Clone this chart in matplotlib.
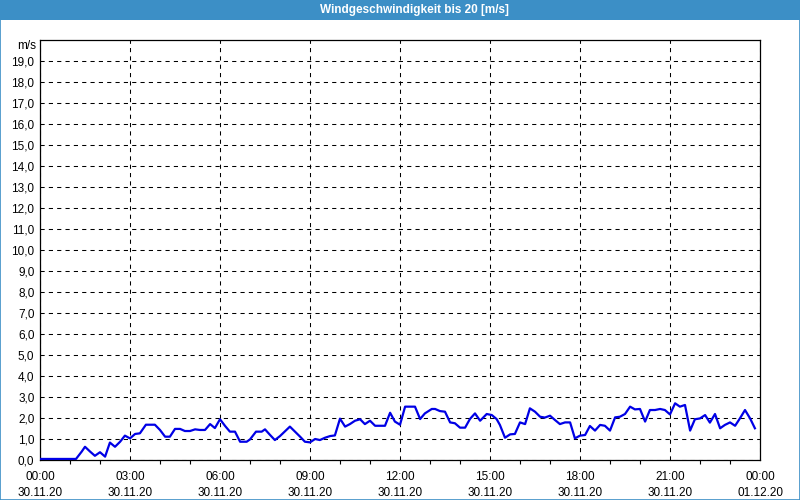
import matplotlib
matplotlib.use("Agg")
import matplotlib.pyplot as plt
from matplotlib.patches import Rectangle

title = "Windgeschwindigkeit bis 20 [m/s]"
unit_label = "m/s"

hours = [0.0, 1.2, 1.39, 1.5, 1.67, 1.83, 2.0, 2.17, 2.33, 2.5, 2.67, 2.83, 3.0, 3.17, 3.33,
         3.53, 3.83, 4.0, 4.17, 4.33, 4.5, 4.67, 4.83, 5.0, 5.17, 5.33, 5.5, 5.67, 5.83, 6.0,
         6.17, 6.33, 6.5, 6.67, 6.89, 7.0, 7.2, 7.39, 7.5, 7.67, 7.83, 8.0, 8.33, 8.5, 8.67,
         8.83, 9.0, 9.17, 9.33, 9.5, 9.67, 9.83, 10.0, 10.17, 10.33, 10.5, 10.67, 10.83, 11.0,
         11.17, 11.5, 11.67, 11.83, 12.0,
         12.17, 12.5, 12.67, 12.83, 13.06, 13.17, 13.33, 13.5, 13.67, 13.83, 14.0, 14.17,
         14.33, 14.5, 14.67, 14.89, 15.06, 15.22, 15.33, 15.5, 15.67, 15.83, 16.0, 16.17,
         16.33, 16.5, 16.67, 16.83, 17.0, 17.17, 17.33, 17.5, 17.67, 17.83, 18.0,
         18.17, 18.33, 18.5, 18.67, 18.83, 19.0, 19.17, 19.33, 19.5, 19.67, 19.83, 20.0,
         20.17, 20.33, 20.5, 20.67, 20.83, 21.0, 21.17, 21.33, 21.5, 21.67, 21.83, 22.0,
         22.17, 22.33, 22.5, 22.67, 22.83, 23.0, 23.17, 23.33, 23.5, 23.67, 23.83]
speed = [0.05, 0.05, 0.4, 0.63, 0.4, 0.2, 0.37, 0.16, 0.83, 0.63, 0.87, 1.16, 1.03, 1.24, 1.27,
         1.68, 1.68, 1.43, 1.11, 1.11, 1.48, 1.48, 1.38, 1.38, 1.46, 1.43, 1.43, 1.71, 1.52, 1.94,
         1.62, 1.35, 1.35, 0.87, 0.87, 0.98, 1.35, 1.35, 1.46, 1.19, 0.95, 1.14, 1.59, 1.35, 1.11,
         0.87, 0.84, 1.0, 0.95, 1.06, 1.14, 1.17, 1.97, 1.59, 1.71, 1.87, 1.94, 1.71, 1.87,
         1.63, 1.63, 2.25, 1.83, 1.68,
         2.54, 2.54, 1.95, 2.22, 2.43, 2.43, 2.33, 2.3, 1.79, 1.75, 1.54, 1.54,
         1.95, 2.22, 1.87, 2.19, 2.14, 1.95, 1.67, 1.06, 1.22, 1.24, 1.79, 1.71,
         2.46, 2.3, 2.06, 2.02, 2.11, 1.9, 1.71, 1.79, 1.79, 1.03, 1.16,
         1.19, 1.62, 1.4, 1.67, 1.63, 1.4, 2.03, 2.06, 2.19, 2.54, 2.41, 2.43,
         1.83, 2.38, 2.38, 2.43, 2.38, 2.17, 2.7, 2.54, 2.62, 1.4, 1.94, 1.98,
         2.14, 1.78, 2.19, 1.51, 1.67, 1.79, 1.63, 1.98, 2.38, 1.98, 1.51]

x_ticks = [0, 3, 6, 9, 12, 15, 18, 21, 24]
x_tick_labels = ["00:00\n30.11.20", "03:00\n30.11.20", "06:00\n30.11.20", "09:00\n30.11.20",
                 "12:00\n30.11.20", "15:00\n30.11.20", "18:00\n30.11.20", "21:00\n30.11.20",
                 "00:00\n01.12.20"]
y_ticks = list(range(0, 20))
y_tick_labels = [f"{v},0" for v in y_ticks]

plt.rcParams['font.family'] = ['Liberation Sans', 'DejaVu Sans']

fig = plt.figure(figsize=(8, 5), dpi=100)
fig.patch.set_facecolor("white")

# title bar and frame
bar_color = "#3c8fc6"
fig.patches.append(Rectangle((0, 0.96), 1, 0.04, transform=fig.transFigure,
                             facecolor=bar_color, edgecolor="none", zorder=0))
fig.patches.append(Rectangle((0.0006, 0.001), 0.9988, 0.97, transform=fig.transFigure,
                             facecolor="none", edgecolor=bar_color, linewidth=1.2, zorder=0))
fig.text(0.518, 0.980, title, color="white", fontsize=8.5, fontweight="bold",
         ha="center", va="center")

ax = fig.add_axes([0.05, 0.08, 0.9, 0.84])
ax.plot(hours, speed, color="#0000e6", linewidth=1.6, zorder=3)
ax.set_xlim(0, 24)
ax.set_ylim(0, 20)

ax.set_xticks(x_ticks)
ax.set_xticklabels(x_tick_labels, fontsize=8.5, linespacing=1.45)
ax.set_xticks(range(0, 25), minor=True)
ax.set_yticks(y_ticks)
ax.set_yticklabels(y_tick_labels, fontsize=8.5)

ax.tick_params(axis="x", which="major", length=0, pad=8)
ax.tick_params(axis="x", which="minor", length=3, width=0.8, color="black")
ax.tick_params(axis="y", which="major", length=0, pad=4)

ax.grid(True, which="major", color="black", linewidth=0.75, linestyle=(0, (4, 4)))
for s in ax.spines.values():
    s.set_color("black")
    s.set_linewidth(0.9)

ax.text(-0.005, 1.0 - 0.3 / 20, unit_label, transform=ax.transAxes, fontsize=8.5,
        ha="right", va="center")

fig.savefig("out.png", dpi=100, facecolor=fig.get_facecolor())
